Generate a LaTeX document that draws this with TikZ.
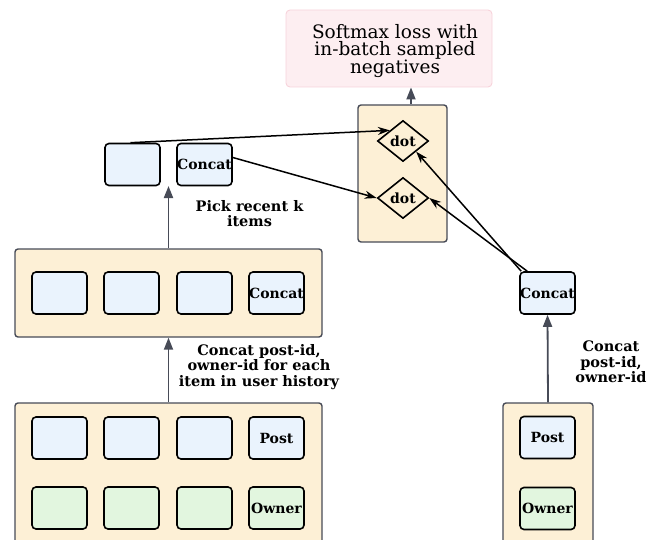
\documentclass[tikz,border=0pt]{standalone}
\usepackage{fontspec}
\setmainfont{DejaVu Serif}
\usetikzlibrary{shapes.geometric,arrows.meta}
\definecolor{bluef}{HTML}{EAF3FD}
\definecolor{greenf}{HTML}{E2F6DF}
\definecolor{beige}{HTML}{FDF0D6}
\definecolor{pinkf}{HTML}{FDEEF1}
\definecolor{pinkd}{HTML}{F7D3DB}
\definecolor{grayd}{HTML}{474B57}
\tikzset{
  cell/.style={draw=black, line width=1.6pt, rounded corners=4pt, minimum width=55pt, minimum height=42pt, inner sep=0pt, font=\bfseries\fontsize{14}{16}\selectfont},
  bcell/.style={cell, fill=bluef},
  gcell/.style={cell, fill=greenf},
  holder/.style={draw=grayd, line width=1.4pt, fill=beige, rounded corners=3pt, inner sep=0pt},
  dotnode/.style={diamond, draw=black, line width=1.6pt, fill=beige, minimum width=51pt, minimum height=41pt, inner sep=0pt, font=\bfseries\fontsize{14}{15}\selectfont},
  lbl/.style={align=center, font=\bfseries\fontsize{14.5}{15.5}\selectfont, inner sep=0pt},
  garrow/.style={draw=grayd, line width=1.8pt, -{Triangle[length=12pt,width=9pt]}},
  karrow/.style={draw=black, line width=1.5pt, -{Stealth[length=12pt,width=8pt]}},
}
\begin{document}
\begin{tikzpicture}[x=1pt,y=1pt]
\useasboundingbox (0,0) rectangle (658,-540);
\clip (0,0) rectangle (658,-540);
% softmax
\node[draw=pinkd, fill=pinkf, rounded corners=4pt, line width=0.9pt, minimum width=206pt, minimum height=77pt, align=center, font=\fontsize{18.5}{17.5}\selectfont, inner sep=0pt] (sm) at (389,-48.5) {};
\node[align=center, font=\fontsize{18.5}{17.5}\selectfont, inner sep=0pt] (smt) at (395,-51) {Softmax loss with\\in-batch sampled\\negatives};
% dot container
\node[holder, minimum width=89pt, minimum height=137pt] (dc) at (402.5,-173.5) {};
\node[dotnode] (d1) at (403,-141) {dot};
\node[dotnode] (d2) at (403,-198) {dot};
\coordinate (ax) at (411,0);
\draw[garrow] (dc.north -| ax) -- (sm.south -| ax);
% picked
\node[bcell] (ls) at (132.5,-164.5) {};
\node[bcell] (c1) at (204.5,-164.5) {Concat};
\coordinate (pk) at (168.5,-186);
\node[lbl] (lpick) at (249.5,-213.5) {Pick recent k\\items};
% middle row
\node[holder, minimum width=307pt, minimum height=88pt] (mid) at (168.5,-293) {};
\node[bcell] (m1) at (59.5,-293) {};
\node[bcell] (m2) at (131.5,-293) {};
\node[bcell] (m3) at (204.5,-293) {};
\node[bcell] (m4) at (276.5,-293) {Concat};
\draw[garrow] (mid.north) -- (pk);
\node[lbl] (lcat) at (259,-367) {Concat post-id,\\owner-id for each\\item in user history};
% bottom
\node[holder, minimum width=307pt, minimum height=157pt] (bot) at (168.5,-481.5) {};
\node[bcell] (p1) at (59.5,-438) {};
\node[bcell] (p2) at (131.5,-438) {};
\node[bcell] (p3) at (204.5,-438) {};
\node[bcell] (p4) at (276.5,-438) {Post};
\node[gcell] (o1) at (59.5,-508) {};
\node[gcell] (o2) at (131.5,-508) {};
\node[gcell] (o3) at (204.5,-508) {};
\node[gcell] (o4) at (276.5,-508) {Owner};
\draw[garrow] (bot.north) -- (mid.south);
% right side
\node[bcell] (rc) at (547.5,-293) {Concat};
\node[holder, minimum width=90pt, minimum height=157pt] (rb) at (548,-481.5) {};
\node[bcell] (rp) at (547.5,-437.5) {Post};
\node[gcell] (ro) at (547.5,-508.5) {Owner};
\draw[garrow] (rb.north) -- (rc.south);
\node[lbl] (lrc) at (611,-362) {Concat\\post-id,\\owner-id};
% connectors
\draw[karrow] ([xshift=-2pt]ls.north) -- (d1.north west);
\draw[karrow] ([yshift=7pt]c1.east) -- (d2.west);
\draw[karrow] ([xshift=2pt]rc.north west) -- (d1.south east);
\draw[karrow] ([xshift=8pt]rc.north west) -- (d2.east);
\end{tikzpicture}
\end{document}
